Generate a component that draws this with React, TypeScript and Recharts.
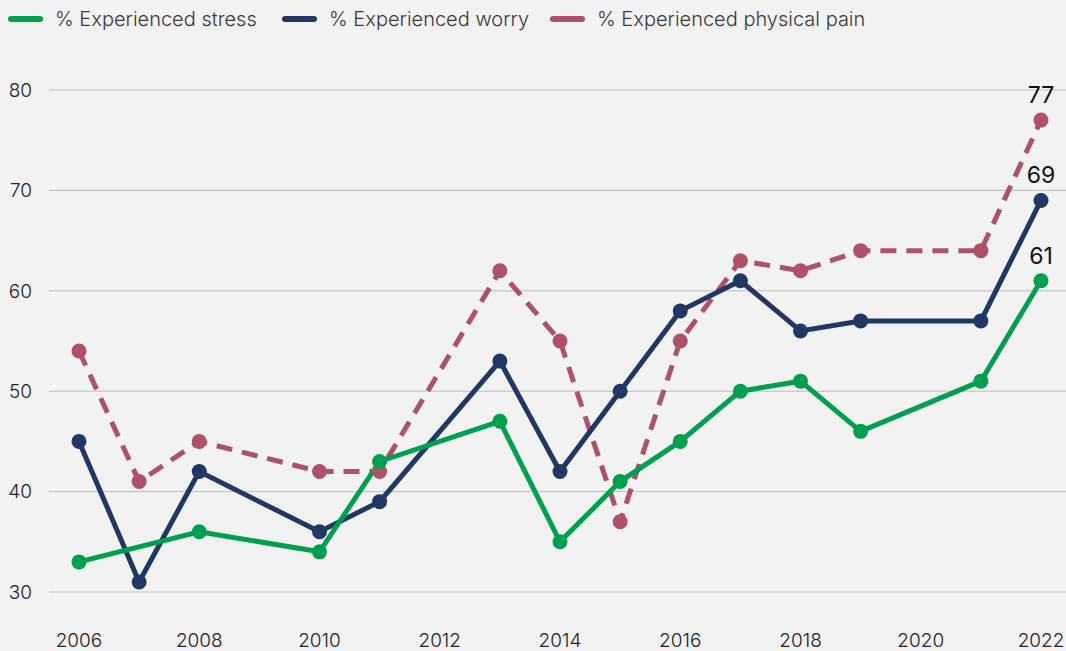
import React from 'react';
import { LineChart, Line, XAxis, YAxis, CartesianGrid, ReferenceLine } from 'recharts';

const years = [2006, 2007, 2008, 2010, 2011, 2013, 2014, 2015, 2016, 2017, 2018, 2019, 2021, 2022];
const stress = [33, null, 36, 34, 43, 47, 35, 41, 45, 50, 51, 46, 51, 61];
const worry = [45, 31, 42, 36, 39, 53, 42, 50, 58, 61, 56, 57, 57, 69];
const pain = [54, 41, 45, 42, 42, 62, 55, 37, 55, 63, 62, 64, 64, 77];
const xTicks = [2006, 2008, 2010, 2012, 2014, 2016, 2018, 2020, 2022];
const yTicks = [30, 40, 50, 60, 70, 80];

const GREEN = '#00a04e';
const NAVY = '#1f3864';
const PINK = '#ae5169';
const FONT = 'Inter, "Noto Sans", sans-serif';

const data = years.map((year, i) => ({ year, stress: stress[i], worry: worry[i], pain: pain[i] }));

const legendItems = [
  { label: '% Experienced stress', color: GREEN, left: 8 },
  { label: '% Experienced worry', color: NAVY, left: 282 },
  { label: '% Experienced physical pain', color: PINK, left: 550 },
];

const lastLabel = (props: any) => {
  const { x, y, value, index } = props;
  if (index !== years.length - 1) return null;
  return (
    <text x={x} y={y - 17} textAnchor="middle" fill="#111" fontSize={23} fontFamily={FONT}>
      {value}
    </text>
  );
};

const App: React.FC = () => {
  return (
    <div style={{ position: 'relative', width: 1066, height: 651, background: '#f2f2f2', fontFamily: FONT }}>
      <style>{'body{margin:0}'}</style>
      {legendItems.map((item) => (
        <div key={item.label} style={{ position: 'absolute', top: 6, left: item.left, display: 'flex', alignItems: 'center', height: 26 }}>
          <span style={{ width: 35, height: 6, borderRadius: 3, background: item.color, marginRight: 12 }} />
          <span style={{ fontSize: 20, color: '#3a3a3a', fontWeight: 300 }}>{item.label}</span>
        </div>
      ))}
      <LineChart width={1066} height={651} data={data} margin={{ top: 90, right: 0, bottom: 0, left: 0 }}>
        <CartesianGrid vertical={false} stroke="#bdbdbd" strokeWidth={1} />
        <ReferenceLine y={80} stroke="#dcdcdc" strokeWidth={1.5} />
        <ReferenceLine y={30} stroke="#dcdcdc" strokeWidth={1.5} />
        <XAxis
          dataKey="year"
          type="number"
          domain={[2006, 2022]}
          ticks={xTicks}
          padding={{ left: 30, right: 25 }}
          axisLine={false}
          tickLine={false}
          height={59}
          tickMargin={36}
          tick={{ fill: '#222', fontSize: 19, fontFamily: FONT, fontWeight: 300 }}
        />
        <YAxis
          domain={[30, 80]}
          ticks={yTicks}
          width={49}
          axisLine={false}
          tickLine={false}
          tickMargin={11}
          tick={{ fill: '#222', fontSize: 19, fontFamily: FONT, fontWeight: 300 }}
        />
        <Line
          dataKey="pain"
          stroke={PINK}
          strokeWidth={5}
          strokeDasharray="16 10"
          dot={{ r: 7.5, fill: PINK, stroke: 'none' }}
          activeDot={false}
          label={lastLabel}
          isAnimationActive={false}
        />
        <Line
          dataKey="worry"
          stroke={NAVY}
          strokeWidth={5}
          dot={{ r: 7.5, fill: NAVY, stroke: 'none' }}
          activeDot={false}
          label={lastLabel}
          isAnimationActive={false}
        />
        <Line
          dataKey="stress"
          stroke={GREEN}
          strokeWidth={5}
          connectNulls
          dot={{ r: 7.5, fill: GREEN, stroke: 'none' }}
          activeDot={false}
          label={lastLabel}
          isAnimationActive={false}
        />
      </LineChart>
    </div>
  );
};

export default App;
